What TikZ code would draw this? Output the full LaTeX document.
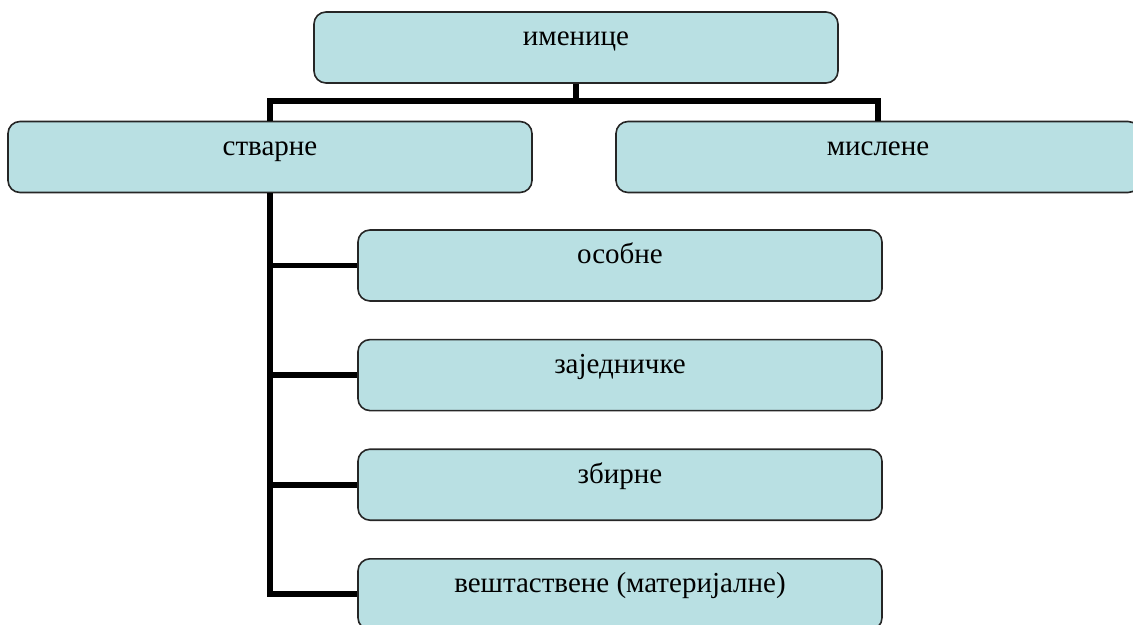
\documentclass[tikz,border=0pt]{standalone}
\usepackage{fontspec}
\setmainfont{Liberation Serif}
\usetikzlibrary{positioning}
\definecolor{paleCyan}{RGB}{185,224,227}
\tikzset{
	catbox/.style={
		draw=black!85,
		fill=paleCyan,
		rounded corners=6pt,
		minimum width=262pt,
		minimum height=35.5pt,
		line width=0.8pt,
		inner sep=0pt,
		text height=8pt,
		text depth=9.5pt,
		font=\fontsize{14.5pt}{16pt}\selectfont,
	},
	trunk/.style={
		line width=2.9pt,
		draw=black,
	}
}

\begin{document}
\begin{tikzpicture}[x=0.5pt,y=-0.5pt]
	\useasboundingbox (0,0) rectangle (1133,625);
	\clip (0,0) rectangle (1133,625);
	% --- Top ---
	\node[catbox] (nouns) at (576,47.5) {именице};
	% --- Second row ---
	\node[catbox] (concrete) at (270,157) {стварне};
	\node[catbox] (abstract) at (878,157) {мислене};
	% --- Children of "стварне" ---
	\node[catbox] (proper) at (620,265.5) {особне};
	\node[catbox] (common) [below=18.5pt of proper] {заједничке};
	\node[catbox] (collective) [below=18.5pt of common] {збирне};
	\node[catbox] (material) [below=18.5pt of collective] {вештаствене (материјалне)};
	
	% --- Connectors ---
	\draw[trunk] (nouns.south) -- ++(0,17) coordinate (split);
	\draw[trunk] (concrete.north) |- (split) -| (abstract.north);
	\draw[trunk] (concrete.south) |- (material.west);
	\foreach \kind in {proper,common,collective}
		\draw[trunk] (concrete.south |- \kind.west) -- (\kind.west);
\end{tikzpicture}
\end{document}
